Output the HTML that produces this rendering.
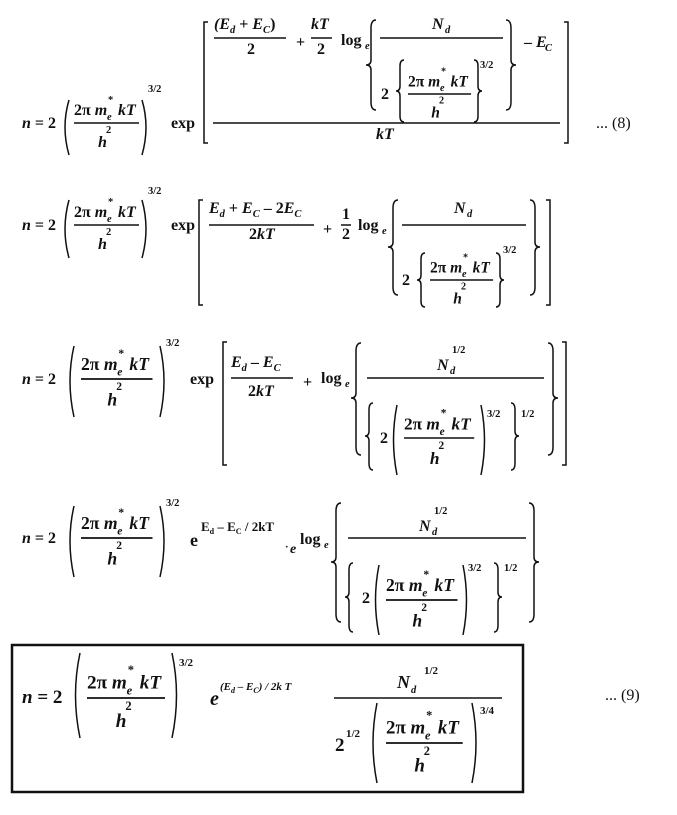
<!DOCTYPE html>
<html><head><meta charset="utf-8"><style>
html,body{margin:0;padding:0;background:#fff}
svg{display:block}
text{font-family:"Liberation Serif",serif;font-weight:bold;fill:#111}
.i{font-style:italic}
.s{font-size:10.5px}
.m{font-size:16px}
path,line,polyline{stroke:#111;fill:none;stroke-width:1.5}
</style></head><body>
<svg width="677" height="815" viewBox="0 0 677 815" xmlns="http://www.w3.org/2000/svg">

<!-- ===== Equation 1 ===== -->
<text x="22" y="128" class="m"><tspan class="i">n</tspan> = 2</text>
<path d="M69 100 Q61 127 69 155"/>
<g transform="translate(74,123)">
 <text x="0" y="-8" class="m">2π <tspan class="i">m</tspan></text><text x="33" y="-3" class="s i">e</text><text x="34" y="-20" class="s">*</text><text x="44" y="-8" class="m i">kT</text>
 <line x1="0" y1="0" x2="65" y2="0"/>
 <text x="24" y="24" class="m i">h</text><text x="32" y="10" class="s">2</text>
</g>
<path d="M142 100 Q150 127 142 155"/>
<text x="148" y="92" class="s">3/2</text>
<text x="171" y="128" class="m">exp</text>
<polyline points="208,22 204,22 204,143 208,143"/>
<line x1="213" y1="123" x2="560" y2="123"/>
<text x="376" y="139" class="m i">kT</text>
<polyline points="564,22 568,22 568,143 564,143"/>
<text x="214" y="29" class="m i">(E<tspan class="s" dy="4">d</tspan><tspan dy="-4" style="font-style:normal"> + </tspan>E<tspan class="s" dy="4">C</tspan><tspan dy="-4" style="font-style:normal">)</tspan></text>
<line x1="214" y1="38" x2="286" y2="38"/>
<text x="247" y="54" class="m">2</text>
<text x="296" y="47" class="m">+</text>
<text x="311" y="29" class="m i">kT</text><line x1="311" y1="38" x2="332" y2="38"/><text x="317" y="54" class="m">2</text>
<text x="341" y="45" class="m">log</text><text x="365" y="49" class="s i">e</text>
<path d="M376 20 Q371 20 371 28 L371 60 Q371 65 366 65 Q371 65 371 70 L371 102 Q371 110 376 110"/>
<text x="432" y="29" class="m i">N</text><text x="445" y="33" class="s i">d</text>
<line x1="380" y1="38" x2="503" y2="38"/>
<text x="381" y="99" class="m">2</text>
<path d="M404 60 Q400 60 400 66 L400 86 Q400 91 396 91 Q400 91 400 96 L400 116 Q400 122 404 122"/>
<g transform="translate(408,94) scale(0.97)">
 <text x="0" y="-8" class="m">2π <tspan class="i">m</tspan></text><text x="33" y="-3" class="s i">e</text><text x="34" y="-20" class="s">*</text><text x="44" y="-8" class="m i">kT</text>
 <line x1="0" y1="0" x2="65" y2="0"/>
 <text x="24" y="24" class="m i">h</text><text x="32" y="10" class="s">2</text>
</g>
<path d="M474 60 Q478 60 478 66 L478 86 Q478 91 482 91 Q478 91 478 96 L478 116 Q478 122 474 122"/>
<text x="480" y="68" class="s">3/2</text>
<path d="M506 20 Q511 20 511 28 L511 60 Q511 65 516 65 Q511 65 511 70 L511 102 Q511 110 506 110"/>
<text x="524" y="47" class="m">– <tspan class="i">E</tspan></text><text x="545" y="51" class="s i">C</text>
<text x="596" y="128" class="m" style="font-weight:normal">... (8)</text>

<!-- ===== Equation 2 ===== -->
<text x="22" y="230" class="m"><tspan class="i">n</tspan> = 2</text>
<path d="M69 200 Q61 229 69 258"/>
<g transform="translate(74,225)">
 <text x="0" y="-8" class="m">2π <tspan class="i">m</tspan></text><text x="33" y="-3" class="s i">e</text><text x="34" y="-20" class="s">*</text><text x="44" y="-8" class="m i">kT</text>
 <line x1="0" y1="0" x2="65" y2="0"/>
 <text x="24" y="24" class="m i">h</text><text x="32" y="10" class="s">2</text>
</g>
<path d="M142 200 Q150 229 142 258"/>
<text x="148" y="194" class="s">3/2</text>
<text x="171" y="230" class="m">exp</text>
<polyline points="203,200 199,200 199,305 203,305"/>
<text x="209" y="213" class="m i">E<tspan class="s" dy="4">d</tspan><tspan dy="-4" style="font-style:normal"> + </tspan>E<tspan class="s" dy="4">C</tspan><tspan dy="-4" style="font-style:normal"> – 2</tspan>E<tspan class="s" dy="4">C</tspan></text>
<line x1="209" y1="225" x2="314" y2="225"/>
<text x="249" y="239" class="m">2<tspan class="i">kT</tspan></text>
<text x="323" y="234" class="m">+</text>
<text x="342" y="219" class="m">1</text><line x1="341" y1="225" x2="351" y2="225"/><text x="342" y="239" class="m">2</text>
<text x="358" y="230" class="m">log</text><text x="382" y="234" class="s i">e</text>
<path d="M398 200 Q393 200 393 208 L393 242 Q393 247 388 247 Q393 247 393 252 L393 287 Q393 295 398 295"/>
<text x="454" y="213" class="m i">N</text><text x="467" y="217" class="s i">d</text>
<line x1="402" y1="225" x2="526" y2="225"/>
<text x="402" y="285" class="m">2</text>
<path d="M425 253 Q421 253 421 259 L421 275 Q421 280 417 280 Q421 280 421 285 L421 301 Q421 307 425 307"/>
<g transform="translate(430,280) scale(0.97)">
 <text x="0" y="-8" class="m">2π <tspan class="i">m</tspan></text><text x="33" y="-3" class="s i">e</text><text x="34" y="-20" class="s">*</text><text x="44" y="-8" class="m i">kT</text>
 <line x1="0" y1="0" x2="65" y2="0"/>
 <text x="24" y="24" class="m i">h</text><text x="32" y="10" class="s">2</text>
</g>
<path d="M496 253 Q500 253 500 259 L500 275 Q500 280 504 280 Q500 280 500 285 L500 301 Q500 307 496 307"/>
<text x="503" y="253" class="s">3/2</text>
<path d="M530 200 Q535 200 535 208 L535 242 Q535 247 540 247 Q535 247 535 252 L535 287 Q535 295 530 295"/>
<polyline points="546,200 550,200 550,305 546,305"/>

<!-- ===== Equation 3 ===== -->
<text x="22" y="384" class="m"><tspan class="i">n</tspan> = 2</text>
<path d="M74 346 Q66 381 74 417"/>
<g transform="translate(81,379) scale(1.1)">
 <text x="0" y="-8" class="m">2π <tspan class="i">m</tspan></text><text x="33" y="-3" class="s i">e</text><text x="34" y="-20" class="s">*</text><text x="44" y="-8" class="m i">kT</text>
 <line x1="0" y1="0" x2="65" y2="0"/>
 <text x="24" y="24" class="m i">h</text><text x="32" y="10" class="s">2</text>
</g>
<path d="M160 346 Q168 381 160 417"/>
<text x="166" y="346" class="s">3/2</text>
<text x="190" y="384" class="m">exp</text>
<polyline points="227,342 223,342 223,465 227,465"/>
<text x="231" y="367" class="m i">E<tspan class="s" dy="4">d</tspan><tspan dy="-4" style="font-style:normal"> – </tspan>E<tspan class="s" dy="4">C</tspan></text>
<line x1="231" y1="378" x2="293" y2="378"/>
<text x="248" y="396" class="m">2<tspan class="i">kT</tspan></text>
<text x="303" y="387" class="m">+</text>
<text x="321" y="383" class="m">log</text><text x="345" y="387" class="s i">e</text>
<path d="M361 343 Q356 343 356 351 L356 393 Q356 398 351 398 Q356 398 356 403 L356 447 Q356 455 361 455"/>
<text x="437" y="370" class="m i">N</text><text x="450" y="374" class="s i">d</text><text x="452" y="353" class="s">1/2</text>
<line x1="367" y1="378" x2="544" y2="378"/>
<path d="M373 403 Q369 403 369 410 L369 431 Q369 436 365 436 Q369 436 369 441 L369 463 Q369 470 373 470"/>
<text x="380" y="443" class="m">2</text>
<path d="M397 405 Q390 440 397 475"/>
<g transform="translate(404,438) scale(1.08)">
 <text x="0" y="-8" class="m">2π <tspan class="i">m</tspan></text><text x="33" y="-3" class="s i">e</text><text x="34" y="-20" class="s">*</text><text x="44" y="-8" class="m i">kT</text>
 <line x1="0" y1="0" x2="65" y2="0"/>
 <text x="24" y="24" class="m i">h</text><text x="32" y="10" class="s">2</text>
</g>
<path d="M481 405 Q488 440 481 475"/>
<text x="487" y="417" class="s">3/2</text>
<path d="M511 403 Q515 403 515 410 L515 431 Q515 436 519 436 Q515 436 515 441 L515 463 Q515 470 511 470"/>
<text x="521" y="417" class="s">1/2</text>
<path d="M548 343 Q553 343 553 351 L553 393 Q553 398 558 398 Q553 398 553 403 L553 447 Q553 455 548 455"/>
<polyline points="562,342 566,342 566,465 562,465"/>

<!-- ===== Equation 4 ===== -->
<text x="22" y="543" class="m"><tspan class="i">n</tspan> = 2</text>
<path d="M74 506 Q66 541 74 577"/>
<g transform="translate(81,538) scale(1.1)">
 <text x="0" y="-8" class="m">2π <tspan class="i">m</tspan></text><text x="33" y="-3" class="s i">e</text><text x="34" y="-20" class="s">*</text><text x="44" y="-8" class="m i">kT</text>
 <line x1="0" y1="0" x2="65" y2="0"/>
 <text x="24" y="24" class="m i">h</text><text x="32" y="10" class="s">2</text>
</g>
<path d="M160 506 Q168 541 160 577"/>
<text x="166" y="506" class="s">3/2</text>
<text x="190" y="546" class="m" style="font-size:18px">e</text>
<text x="201" y="531" style="font-size:13px">E<tspan style="font-size:8px" dy="3">d</tspan><tspan dy="-3"> – E</tspan><tspan style="font-size:8px" dy="3">C</tspan><tspan dy="-3"> / 2kT</tspan></text>
<text x="285" y="550" class="s">·</text>
<text x="290" y="553" class="i" style="font-size:14px">e</text>
<text x="300" y="544" class="m">log</text><text x="324" y="548" class="s i">e</text>
<path d="M341 503 Q336 503 336 511 L336 557 Q336 562 331 562 Q336 562 336 567 L336 614 Q336 622 341 622"/>
<text x="419" y="531" class="m i">N</text><text x="432" y="535" class="s i">d</text><text x="434" y="514" class="s">1/2</text>
<line x1="348" y1="538" x2="526" y2="538"/>
<path d="M353 563 Q349 563 349 570 L349 592 Q349 597 345 597 Q349 597 349 602 L349 625 Q349 632 353 632"/>
<text x="362" y="603" class="m">2</text>
<path d="M379 565 Q372 600 379 635"/>
<g transform="translate(386,600) scale(1.1)">
 <text x="0" y="-8" class="m">2π <tspan class="i">m</tspan></text><text x="33" y="-3" class="s i">e</text><text x="34" y="-20" class="s">*</text><text x="44" y="-8" class="m i">kT</text>
 <line x1="0" y1="0" x2="65" y2="0"/>
 <text x="24" y="24" class="m i">h</text><text x="32" y="10" class="s">2</text>
</g>
<path d="M463 565 Q470 600 463 635"/>
<text x="468" y="571" class="s">3/2</text>
<path d="M494 563 Q498 563 498 570 L498 592 Q498 597 502 597 Q498 597 498 602 L498 625 Q498 632 494 632"/>
<text x="504" y="571" class="s">1/2</text>
<path d="M529 503 Q534 503 534 511 L534 557 Q534 562 539 562 Q534 562 534 567 L534 614 Q534 622 529 622"/>

<!-- ===== Equation 9 (boxed) ===== -->
<rect x="12" y="645" width="511" height="147" style="fill:none;stroke:#111;stroke-width:2.5"/>
<text x="22" y="703" style="font-size:19px"><tspan class="i">n</tspan> = 2</text>
<path d="M80 653 Q71 695 80 738"/>
<g transform="translate(87,698) scale(1.2)">
 <text x="0" y="-8" class="m">2π <tspan class="i">m</tspan></text><text x="33" y="-3" class="s i">e</text><text x="34" y="-20" class="s">*</text><text x="44" y="-8" class="m i">kT</text>
 <line x1="0" y1="0" x2="65" y2="0"/>
 <text x="24" y="24" class="m i">h</text><text x="32" y="10" class="s">2</text>
</g>
<path d="M172 653 Q181 695 172 738"/>
<text x="179" y="666" style="font-size:11px">3/2</text>
<text x="210" y="705" class="i" style="font-size:20px">e</text>
<text x="220" y="690" class="i" style="font-size:11px">(E<tspan style="font-size:8px" dy="3">d</tspan><tspan dy="-3"> – E</tspan><tspan style="font-size:8px" dy="3">C</tspan><tspan dy="-3">) / 2k T</tspan></text>
<text x="397" y="688" class="i" style="font-size:18px">N</text><text x="411" y="693" class="s i">d</text><text x="424" y="674" style="font-size:11px">1/2</text>
<line x1="334" y1="698" x2="502" y2="698" style="stroke-width:1.6"/>
<text x="335" y="751" style="font-size:19px">2</text><text x="346" y="737" style="font-size:11px">1/2</text>
<path d="M377 703 Q369 743 377 783"/>
<g transform="translate(386,743) scale(1.18)">
 <text x="0" y="-8" class="m">2π <tspan class="i">m</tspan></text><text x="33" y="-3" class="s i">e</text><text x="34" y="-20" class="s">*</text><text x="44" y="-8" class="m i">kT</text>
 <line x1="0" y1="0" x2="65" y2="0"/>
 <text x="24" y="24" class="m i">h</text><text x="32" y="10" class="s">2</text>
</g>
<path d="M472 703 Q480 743 472 783"/>
<text x="480" y="714" style="font-size:11px">3/4</text>
<text x="605" y="700" class="m" style="font-weight:normal;font-size:16px">... (9)</text>
</svg>
</body></html>
